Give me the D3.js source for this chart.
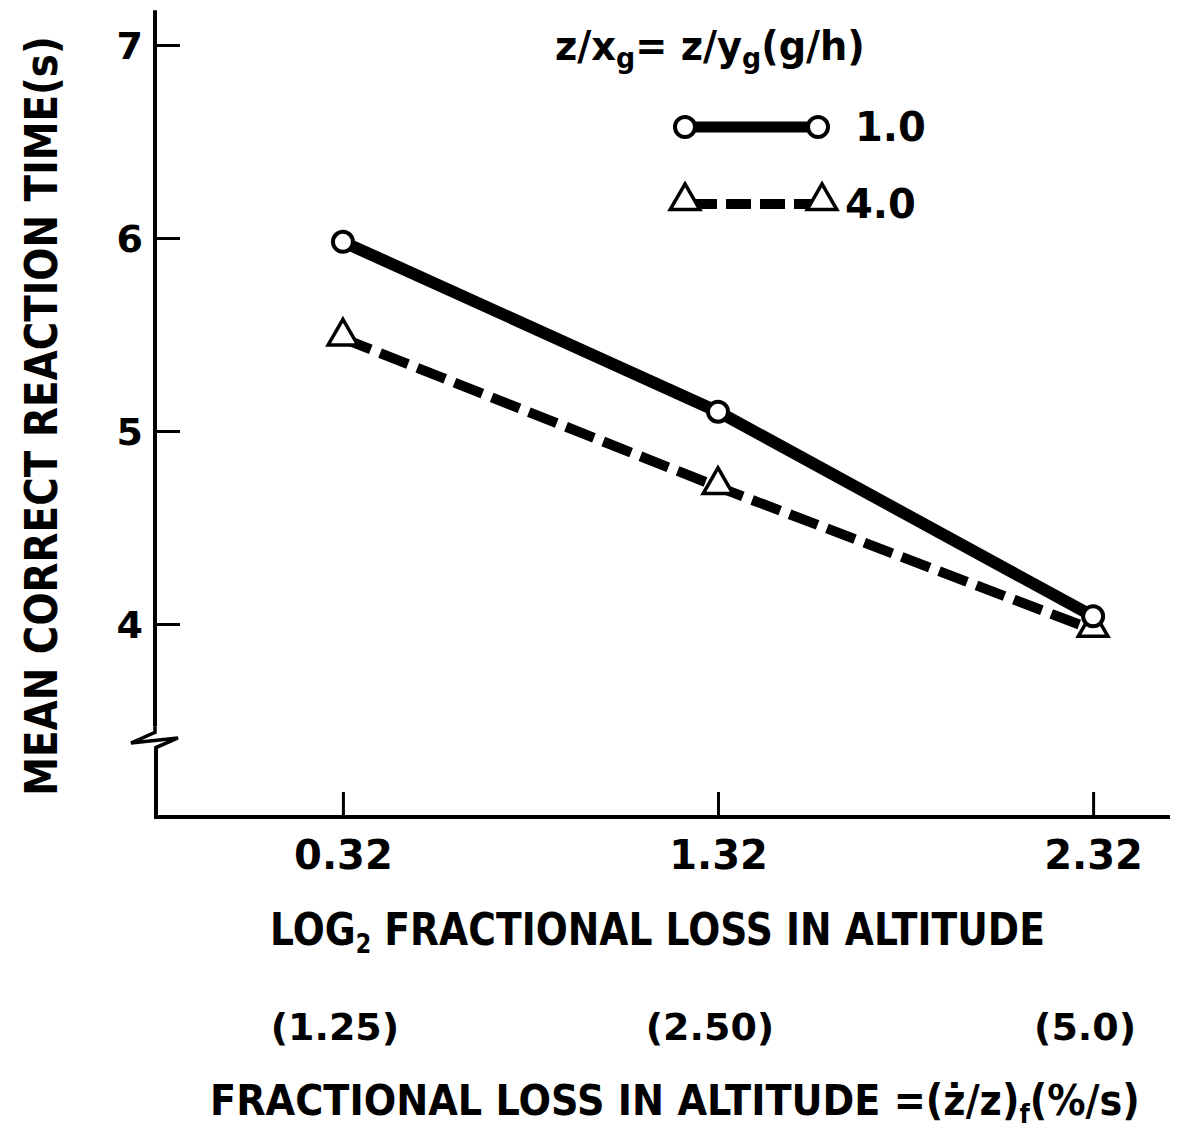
<!DOCTYPE html>
<html>
<head>
<meta charset="utf-8">
<script src="https://cdn.jsdelivr.net/npm/d3@7"></script>
<style>
  body { margin: 0; background: #fff; }
  text { font-family: "DejaVu Sans", sans-serif; font-weight: bold; fill: #000; }
</style>
</head>
<body>
<div id="chart"></div>
<script>
// data
var xValues = [0.32, 1.32, 2.32];
var xTickLabels = ["0.32", "1.32", "2.32"];
var xSubLabels = ["(1.25)", "(2.50)", "(5.0)"];
var yTicks = [4, 5, 6, 7];
var series1 = [5.98, 5.10, 4.04];   // z/xg = 1.0
var series4 = [5.48, 4.71, 3.97];   // z/xg = 4.0
var legendLabels = ["1.0", "4.0"];

var width = 1185, height = 1133;

var svg = d3.select("#chart").append("svg")
  .attr("width", width)
  .attr("height", height);

var x = d3.scaleLinear().domain([-0.181, 2.525]).range([155, 1170]);
var y = d3.scaleLinear().domain([3, 7]).range([817, 45]);

// squeeze a text horizontally so it spans the given width
function fitWidth(t, x0, y0, w, rot) {
  var bw = t.node().getBBox().width;
  var s = w / bw;
  t.attr("transform", "translate(" + x0 + "," + y0 + ")" + (rot ? " rotate(" + rot + ")" : "") + " scale(" + s + ",1)");
}

// axes
var yAxis = d3.axisLeft(y).tickValues(yTicks).tickFormat(d3.format("d"))
  .tickSizeInner(-25).tickSizeOuter(0).tickPadding(12);
var gy = svg.append("g").attr("transform", "translate(155,0)").call(yAxis);
gy.select(".domain").remove();
gy.selectAll(".tick line").attr("stroke", "#000").attr("stroke-width", 3);
gy.selectAll(".tick text").style("font-size", "38px").attr("dy", "0.36em");

var xAxis = d3.axisBottom(x).tickValues(xValues).tickFormat(function(d, i) { return xTickLabels[i]; })
  .tickSizeInner(-25).tickSizeOuter(0).tickPadding(24);
var gx = svg.append("g").attr("transform", "translate(0,817)").call(xAxis);
gx.select(".domain").remove();
gx.selectAll(".tick line").attr("stroke", "#000").attr("stroke-width", 3);
gx.selectAll(".tick text").style("font-size", "40px");

// axis lines with the break on y
var axisG = svg.append("g").attr("fill", "none").attr("stroke", "#000").attr("stroke-width", 4);
axisG.append("line").attr("x1", 155).attr("x2", 155).attr("y1", y(7.18)).attr("y2", y(3.47));
axisG.append("path")
  .attr("stroke-width", 3.5)
  .attr("d", "M155," + y(3.47) + " L155," + (y(3.47) + 6) + " L131,743 L178,738 L156," + y(3.36) + " L156," + (y(3.36) + 4));
axisG.append("line").attr("x1", 156).attr("x2", 156).attr("y1", y(3.36)).attr("y2", y(3) + 2);
axisG.append("line").attr("x1", 154).attr("x2", 1170).attr("y1", y(3)).attr("y2", y(3));

// series lines
var line = d3.line().x(function(d, i) { return x(xValues[i]); }).y(function(d) { return y(d); });

svg.append("path").datum(series4)
  .attr("d", line)
  .attr("fill", "none").attr("stroke", "#000").attr("stroke-width", 10)
  .attr("stroke-dasharray", "30,10");

svg.append("path").datum(series1)
  .attr("d", line)
  .attr("fill", "none").attr("stroke", "#000").attr("stroke-width", 12);

var tri = d3.symbol().type(d3.symbolTriangle).size(380);

svg.selectAll(".tri").data(series4).enter().append("path")
  .attr("class", "tri")
  .attr("d", tri)
  .attr("transform", function(d, i) { return "translate(" + x(xValues[i]) + "," + (y(d) - 2) + ")"; })
  .attr("fill", "#fff").attr("stroke", "#000").attr("stroke-width", 3.5);

svg.selectAll(".circ").data(series1).enter().append("circle")
  .attr("class", "circ")
  .attr("cx", function(d, i) { return x(xValues[i]); })
  .attr("cy", function(d) { return y(d); })
  .attr("r", 10)
  .attr("fill", "#fff").attr("stroke", "#000").attr("stroke-width", 4);

// legend
var lt = svg.append("text").style("font-size", "40px");
lt.append("tspan").text("z/x");
lt.append("tspan").text("g").style("font-size", "28px").attr("dy", 8);
lt.append("tspan").text("= z/y").attr("dy", -8);
lt.append("tspan").text("g").style("font-size", "28px").attr("dy", 8);
lt.append("tspan").text("(g/h)").attr("dy", -8);
fitWidth(lt, 555, 60, 310);

var lg = svg.append("g");
lg.append("line").attr("x1", 685).attr("x2", 818).attr("y1", 127).attr("y2", 127)
  .attr("stroke", "#000").attr("stroke-width", 11);
lg.selectAll(".lc").data([685, 818]).enter().append("circle")
  .attr("cx", function(d) { return d; }).attr("cy", 127).attr("r", 10)
  .attr("fill", "#fff").attr("stroke", "#000").attr("stroke-width", 4);
lg.append("text").attr("x", 855).attr("y", 141).style("font-size", "40px").text(legendLabels[0]);

lg.append("line").attr("x1", 692).attr("x2", 814).attr("y1", 204).attr("y2", 204)
  .attr("stroke", "#000").attr("stroke-width", 10).attr("stroke-dasharray", "25,9");
lg.selectAll(".lt").data([685, 822]).enter().append("path")
  .attr("d", tri)
  .attr("transform", function(d) { return "translate(" + d + ",201)"; })
  .attr("fill", "#fff").attr("stroke", "#000").attr("stroke-width", 3.5);
lg.append("text").attr("x", 845).attr("y", 218).style("font-size", "40px").text(legendLabels[1]);

// axis titles
var yt = svg.append("text")
  .attr("text-anchor", "middle")
  .style("font-size", "44px")
  .text("MEAN CORRECT REACTION TIME(s)");
fitWidth(yt, 57, 416, 760, -90);

var xt = svg.append("text").style("font-size", "44px");
xt.append("tspan").text("LOG");
xt.append("tspan").text("2").style("font-size", "26px").attr("dy", 8);
xt.append("tspan").text(" FRACTIONAL LOSS IN ALTITUDE").attr("dy", -8);
fitWidth(xt, 270, 945, 775);

svg.selectAll(".sub").data(xSubLabels).enter().append("text")
  .attr("class", "sub")
  .attr("x", function(d, i) { return x(xValues[i]) - 8; })
  .attr("y", 1040)
  .attr("text-anchor", "middle")
  .style("font-size", "38px")
  .text(function(d) { return d; });

var bt = svg.append("text").style("font-size", "42px");
bt.append("tspan").text("FRACTIONAL LOSS IN ALTITUDE =(\u017C/z)");
bt.append("tspan").text("f").style("font-size", "26px").attr("dy", 8);
bt.append("tspan").text("(%/s)").attr("dy", -8);
fitWidth(bt, 210, 1115, 930);
</script>
</body>
</html>
